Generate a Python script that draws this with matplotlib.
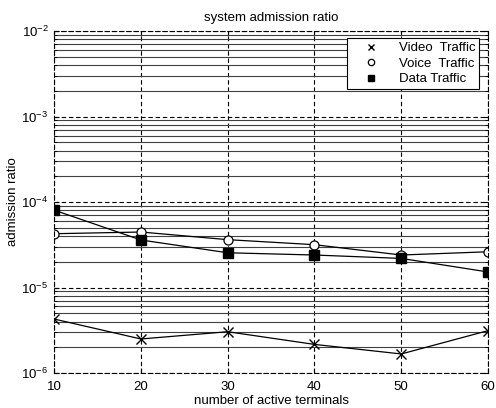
import matplotlib
matplotlib.use("Agg")
import matplotlib.pyplot as plt
from matplotlib.ticker import LogLocator, LogFormatterMathtext, NullFormatter

plt.rcParams['font.family'] = ['Liberation Sans', 'DejaVu Sans']
plt.rcParams['mathtext.fontset'] = 'custom'
plt.rcParams['mathtext.rm'] = 'Liberation Sans'
plt.rcParams['mathtext.it'] = 'Liberation Sans'
plt.rcParams['mathtext.bf'] = 'Liberation Sans'

terminals = [10, 20, 30, 40, 50, 60]
video = [4.28e-6, 2.5e-6, 3.04e-6, 2.16e-6, 1.67e-6, 3.13e-6]
voice = [4.26e-5, 4.46e-5, 3.63e-5, 3.17e-5, 2.4e-5, 2.62e-5]
data = [8.05e-5, 3.6e-5, 2.55e-5, 2.4e-5, 2.19e-5, 1.52e-5]
labels = ['Video  Traffic', 'Voice  Traffic', 'Data Traffic']

fs = 9.5
fig = plt.figure(figsize=(4.96, 4.08), dpi=100)
ax = fig.add_axes([0.109, 0.0858, 0.875, 0.838])

ax.plot(terminals, video, color='black', lw=0.9, marker='x', ms=6.5, mew=1.0, label=labels[0])
ax.plot(terminals, voice, color='black', lw=0.9, marker='o', ms=6.5, mfc='white', mew=0.9, label=labels[1])
ax.plot(terminals, data, color='black', lw=0.9, marker='s', ms=6.5, mfc='black', label=labels[2])

ax.set_yscale('log')
ax.set_ylim(1e-6, 1e-2)
ax.set_xlim(10, 60)
ax.set_xticks(terminals)
ax.yaxis.set_major_locator(LogLocator(base=10, numticks=10))
ax.yaxis.set_minor_locator(LogLocator(base=10, subs=range(2, 10), numticks=100))
ax.yaxis.set_major_formatter(LogFormatterMathtext())
ax.yaxis.set_minor_formatter(NullFormatter())

ax.grid(True, which='major', axis='both', linestyle=(0, (4, 2.5)), color='black', lw=0.8)
ax.grid(True, which='minor', axis='y', linestyle='-', color='0.25', lw=0.8)

ax.tick_params(direction='in', which='both', labelsize=fs, top=True, right=True)
ax.tick_params(axis='x', pad=6)
ax.tick_params(axis='y', pad=4)
for s in ax.spines.values():
    s.set_linestyle((0, (4, 2.5)))
    s.set_linewidth(0.8)

ax.set_title('system admission ratio', fontsize=fs, pad=7)
ax.set_xlabel('number of active terminals', fontsize=fs, labelpad=1)
ax.set_ylabel('admission ratio', fontsize=fs, labelpad=2)

leg = ax.legend(loc='upper right', bbox_to_anchor=(0.98, 0.98), fontsize=fs, frameon=True,
                fancybox=False, edgecolor='black', framealpha=1, handlelength=3.0,
                handletextpad=0.6, borderpad=0.3, labelspacing=0.25, markerscale=0.7,
                borderaxespad=0.0)
leg.get_frame().set_linewidth(0.8)
for h in leg.legend_handles:
    h.set_linestyle('none')

fig.savefig('out.png', dpi=100)
